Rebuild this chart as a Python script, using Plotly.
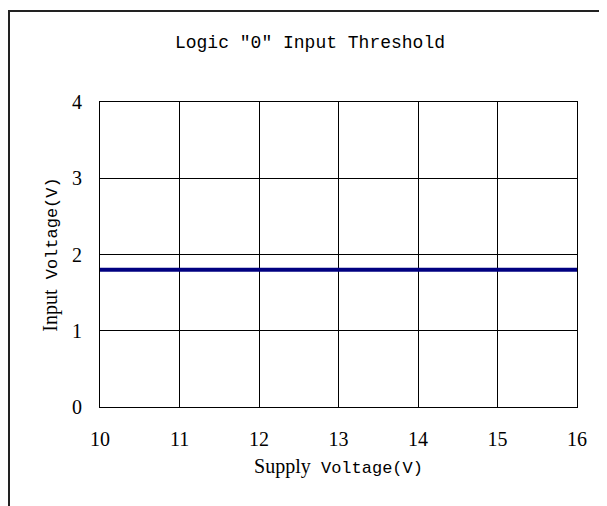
import plotly.graph_objects as go

supply_voltage = [10, 11, 12, 13, 14, 15, 16]
input_voltage = [1.8, 1.8, 1.8, 1.8, 1.8, 1.8, 1.8]
x_ticks = [10, 11, 12, 13, 14, 15, 16]
y_ticks = [0, 1, 2, 3, 4]

# The page body has an 8px default margin, so the figure is drawn 8px smaller
# and all window pixel positions are shifted by OFF.
OFF = 8
WIN_W, WIN_H = 607, 506
W, H = WIN_W - OFF, WIN_H - OFF
# plot area in window pixels: x 100..577, y 102..407
PL, PR, PT, PB = 100 - OFF, 577 - OFF, 102 - OFF, 407 - OFF
ML, MR, MT, MB = PL, W - PR, PT, H - PB
pw, ph = PR - PL, PB - PT


def px_x(px):  # window pixel -> paper x
    return (px - OFF - PL) / pw


def px_y(py):  # window pixel -> paper y
    return (PB - (py - OFF)) / ph


fig = go.Figure()
fig.add_trace(go.Scatter(
    x=supply_voltage, y=input_voltage, mode="lines",
    line=dict(color="#000080", width=4), showlegend=False, hoverinfo="skip",
))

mono = "Liberation Mono, monospace"
serif = "Liberation Serif, serif"

fig.update_layout(
    width=W, height=H,
    margin=dict(l=ML, r=MR, t=MT, b=MB, pad=0),
    paper_bgcolor="white", plot_bgcolor="white",
    title=dict(text="Logic ″0″ Input Threshold", x=(310 - OFF) / W, xanchor="center",
               y=1 - (42 - OFF) / H, yanchor="middle",
               font=dict(family=mono, size=18, color="black")),
    xaxis=dict(
        range=[10, 16], tickvals=x_ticks, ticktext=[str(v) for v in x_ticks],
        showgrid=True, gridcolor="black", gridwidth=1,
        showline=True, linecolor="black", linewidth=1, mirror=True,
        ticks="inside", ticklen=5, tickcolor="black",
        tickfont=dict(family=serif, size=20, color="black"),
        ticklabelstandoff=14,
        zeroline=False,
        title=dict(text='<span style="font-family:Liberation Serif;font-size:20px">Supply</span> Voltage(V)',
                   font=dict(family=mono, size=17, color="black"), standoff=12),
    ),
    yaxis=dict(
        range=[0, 4], tickvals=y_ticks, ticktext=[str(v) for v in y_ticks],
        showgrid=True, gridcolor="black", gridwidth=1,
        showline=True, linecolor="black", linewidth=1, mirror=True,
        ticks="inside", ticklen=5, tickcolor="black",
        tickfont=dict(family=serif, size=20, color="black"),
        ticklabelstandoff=13,
        zeroline=False,
        title=dict(text='<span style="font-family:Liberation Serif;font-size:20px">Input</span> Voltage(V)',
                   font=dict(family=mono, size=17, color="black"), standoff=10),
    ),
    shapes=[dict(
        type="rect", xref="paper", yref="paper",
        x0=px_x(9), y0=px_y(540),
        x1=px_x(640), y1=px_y(11),
        line=dict(color="#222222", width=2), fillcolor="rgba(0,0,0,0)", layer="below",
    )],
)

fig.write_html("out.html")
